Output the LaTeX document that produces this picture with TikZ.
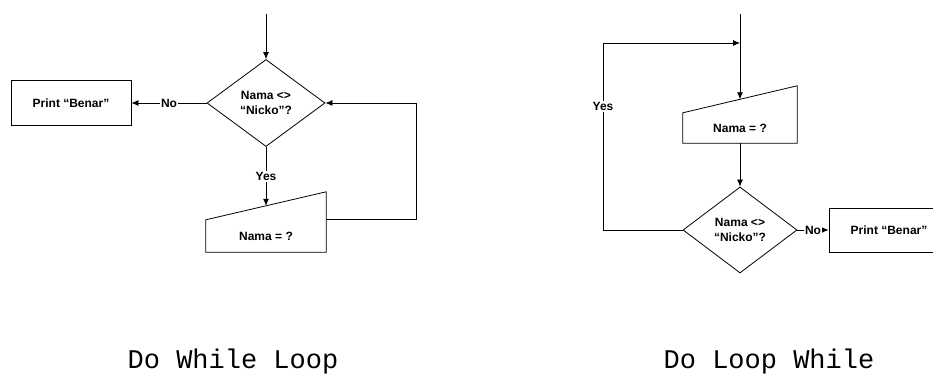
\documentclass[tikz,border=0pt]{standalone}
\usepackage{fontspec}
\setmainfont{Liberation Sans}
\setmonofont{Liberation Mono}
\usetikzlibrary{shapes.geometric,arrows.meta,calc}

\begin{document}
\begin{tikzpicture}[x=1pt,y=1pt,
        flow/.style={line width=0.8pt,-{Latex[length=7pt,width=6pt]}},
        lbl/.style={fill=white,inner sep=1pt,font=\bfseries\fontsize{12}{14}\selectfont},
        decision/.style={diamond,draw,line width=0.8pt,minimum width=118pt,minimum height=87pt,inner sep=0pt,align=center,font=\bfseries\fontsize{12}{15}\selectfont},
        outbox/.style={rectangle,draw,line width=0.8pt,minimum width=120pt,minimum height=45pt,font=\bfseries\fontsize{12}{14}\selectfont},
        inbox/.style={rectangle,inner sep=0pt,font=\bfseries\fontsize{12}{14}\selectfont},
        title/.style={anchor=base,font=\ttfamily\fontsize{27}{30}\selectfont}]
    \useasboundingbox (0,0) rectangle (933,374);

    % do while loop
    \coordinate (in1) at (266,360);
    \node[decision] (d1) at (266,271) {Nama <>\\“Nicko”?};
    \node[outbox] (p1) at (71,271) {Print “Benar”};
    \node[inbox,minimum width=120pt,minimum height=32pt] (nama1) at (266,138) {Nama = ?};
    \draw[line width=0.8pt] (nama1.north west) -- (nama1.south west) -- (nama1.south east) -- ([yshift=28pt]nama1.north east) -- cycle;
    \coordinate (top1) at ($(nama1.north)+(0,14)$);
    \draw[flow] (in1) -- (d1.north);
    \draw[flow] (d1.west) -- node[lbl] {No} (p1.east);
    \draw[flow] (d1.south) -- node[lbl] {Yes} (top1);
    \draw[flow] (nama1.north east) -- ++(90,0) |- (d1.east);
    \node[title] (t1) at (233,5) {Do While Loop};

    % do loop while
    \coordinate (in2) at (740,360);
    \coordinate (join2) at (740,331);
    \node[inbox,minimum width=114pt,minimum height=30pt] (nama2) at (740,246) {Nama = ?};
    \draw[line width=0.8pt] (nama2.north west) -- (nama2.south west) -- (nama2.south east) -- ([yshift=27pt]nama2.north east) -- cycle;
    \coordinate (top2) at ($(nama2.north)+(0,13.5)$);
    \node[decision,minimum width=114pt,minimum height=86pt] (d2) at (740,144) {Nama <>\\“Nicko”?};
    \node[outbox,minimum height=44pt] (p2) at (889,144) {Print “Benar”};
    \draw[flow] (in2) -- (top2);
    \draw[flow] (nama2.south) -- (d2.north);
    \draw[flow] (d2.east) -- node[lbl] {No} (p2.west);
    \draw[flow] (d2.west) -| node[lbl,pos=0.83] {Yes} (603,331) -- (join2);
    \node[title] (t2) at (769,5) {Do Loop While};
\end{tikzpicture}
\end{document}
